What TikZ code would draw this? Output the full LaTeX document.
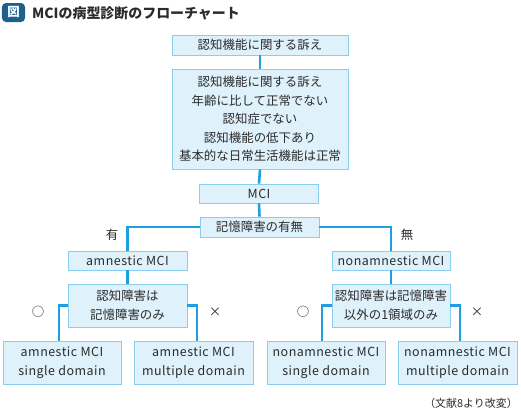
\documentclass[tikz,border=0pt]{standalone}
\usepackage{fontspec}
\setmainfont{Noto Sans CJK JP}
\newfontfamily\latfont{Noto Sans CJK JP}[LetterSpace=4]
\definecolor{boxfill}{HTML}{DFF1FB}
\definecolor{boxline}{HTML}{8ACDEF}
\definecolor{conn}{HTML}{1E9FE0}
\definecolor{txt}{HTML}{2B2B2B}
\definecolor{icon}{HTML}{1D5F8D}
\begin{document}
\begin{tikzpicture}[x=1bp,y=-1bp,
  fbox/.style={draw=boxline,fill=boxfill,line width=0.9bp,inner sep=0pt,align=center,
    text=txt,font=\fontsize{12.5}{18.7}\selectfont},
  lbox/.style={fbox,font=\fontsize{12.5}{18.7}\selectfont\latfont},
  cline/.style={draw=conn,line width=2.6bp},
  lbl/.style={text=txt,font=\fontsize{12.5}{14}\selectfont,inner sep=0pt}]
\useasboundingbox (0,0) rectangle (521,413);
% title
\node[fill=icon,rounded corners=4bp,minimum width=23bp,minimum height=19bp,inner sep=0pt,
  text=white,font=\fontsize{12.5}{12.5}\selectfont\bfseries] (icon) at (13.5,12.5) {図};
\node[anchor=west,inner sep=0pt,text=txt,font=\fontsize{14}{14}\selectfont\bfseries] (title) at (32,13) {MCIの病型診断のフローチャート};
% boxes
\node[fbox,minimum width=176bp,minimum height=20bp] (b1) at (260,45) {認知機能に関する訴え};
\node[fbox,minimum width=176bp,minimum height=100bp] (b2) at (260,119)
  {認知機能に関する訴え\\年齢に比して正常でない\\認知症でない\\認知機能の低下あり\\基本的な日常生活機能は正常};
\node[lbox,minimum width=119bp,minimum height=19bp] (mci) at (259,193.5) {MCI};
\node[fbox,minimum width=119bp,minimum height=20bp] (kk) at (259.5,227) {記憶障害の有無};
\node[lbox,minimum width=119bp,minimum height=19bp] (am) at (127.5,260.5) {amnestic MCI};
\node[lbox,minimum width=118bp,minimum height=19bp] (nm) at (391,260.5) {nonamnestic MCI};
\node[fbox,minimum width=119bp,minimum height=43bp] (q1) at (127.5,305.5) {認知障害は\\記憶障害のみ};
\node[fbox,minimum width=118bp,minimum height=43bp] (q2) at (391,305.5) {認知障害は記憶障害\\以外の1領域のみ};
\node[lbox,minimum width=118bp,minimum height=43bp] (a1) at (62,362.5) {amnestic MCI\\single domain};
\node[lbox,minimum width=119bp,minimum height=43bp] (a2) at (193.5,362.5) {amnestic MCI\\multiple domain};
\node[lbox,minimum width=118bp,minimum height=43bp] (n1) at (326,362.5) {nonamnestic MCI\\single domain};
\node[lbox,minimum width=119bp,minimum height=43bp] (n2) at (457.5,362.5) {nonamnestic MCI\\multiple domain};
% branch coordinates
\coordinate (a1t) at (59,341);
\coordinate (a2t) at (197,341);
\coordinate (n1t) at (322,341);
\coordinate (n2t) at (460,341);
% connectors
\draw[cline] (b1.south) -- (b2.north);
\draw[cline] (b2.south) -- (mci.north);
\draw[cline] (mci.south) -- (kk.north);
\draw[cline] (kk.west) -| (am.north);
\draw[cline] (kk.east) -| (nm.north);
\draw[cline] (am.south) -- (q1.north);
\draw[cline] (nm.south) -- (q2.north);
\draw[cline] (q1.west) -| (a1t);
\draw[cline] (q1.east) -| (a2t);
\draw[cline] (q2.west) -| (n1t);
\draw[cline] (q2.east) -| (n2t);
% labels
\node[lbl] (ly) at (112,235) {有};
\node[lbl] (ln) at (407,235) {無};
\node[lbl] (o1) at (38,312) {○};
\node[lbl] (x1) at (215,312) {×};
\node[lbl] (o2) at (303,312) {○};
\node[lbl] (x2) at (477,312) {×};
\node[anchor=east,inner sep=0pt,text=txt,font=\fontsize{11}{11}\selectfont] (src) at (518,403) {（文献8より改変）};
\end{tikzpicture}
\end{document}
